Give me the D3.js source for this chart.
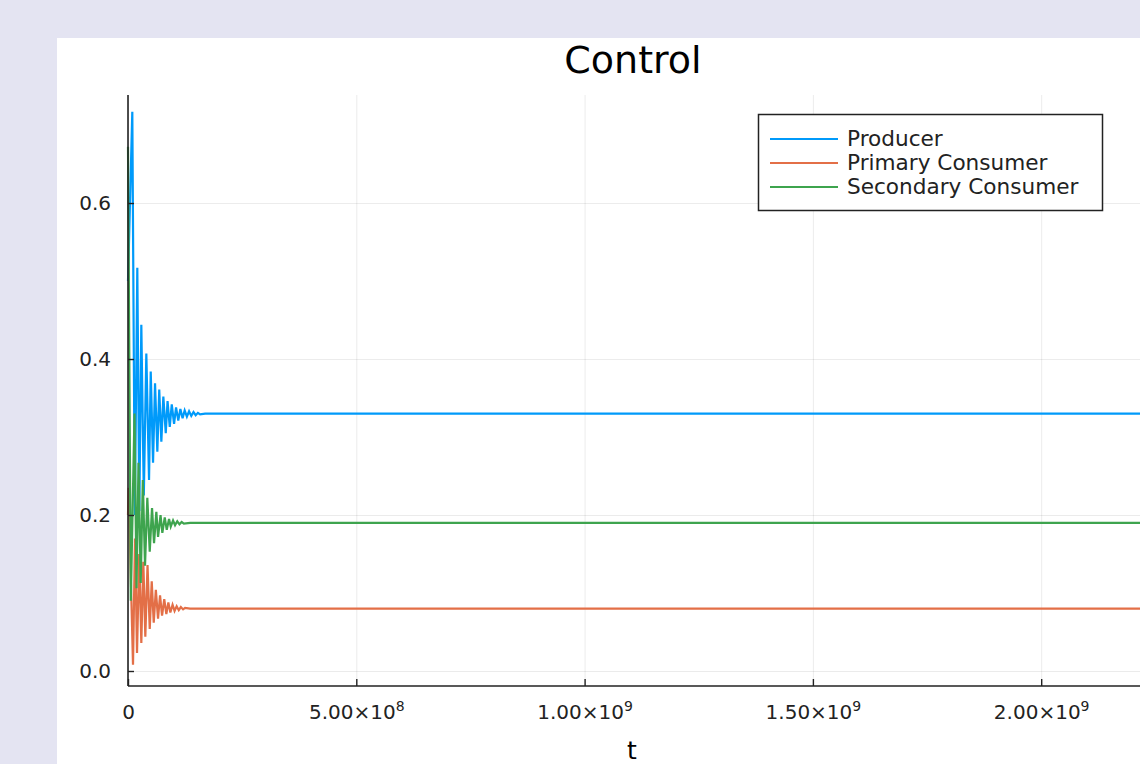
<!DOCTYPE html>
<html>
<head>
<meta charset="utf-8">
<script src="https://cdn.jsdelivr.net/npm/d3@7"></script>
<style>
  html, body { margin: 0; padding: 0; background: #e4e4f2; overflow: hidden; }
  svg { display: block; }
  text { font-family: "DejaVu Sans", sans-serif; }
</style>
</head>
<body>
<svg id="chart" width="1140" height="764"></svg>
<script>
// ---- data (t in units of 1e6) ----
const seriesNames = ["Producer", "Primary Consumer", "Secondary Consumer"];
const seriesColors = ["#009afa", "#e36f47", "#3ea44e"];

const producerT = [0, 9.43, 14.91, 20.39, 24.78, 29.17, 34.65, 40.13, 46.05, 49.78, 54.83, 59.21, 64.25, 68.42, 73.03, 77.41, 82.68, 86.62, 91.45, 95.83, 100.88, 105.26, 110.09, 114.69, 119.52, 124.12, 128.95, 133.77, 138.60, 143.42, 148.25, 153.07, 157.90, 168.86, 2250];
const producerV = [0.5, 0.717, 0.2, 0.517, 0.205, 0.444, 0.225, 0.407, 0.245, 0.384, 0.267, 0.369, 0.281, 0.361, 0.294, 0.352, 0.305, 0.346, 0.313, 0.342, 0.317, 0.338, 0.321, 0.336, 0.324, 0.334, 0.326, 0.333, 0.327, 0.332, 0.328, 0.331, 0.329, 0.33, 0.33];

const primaryT = [0, 1.32, 10.97, 15.35, 19.74, 24.56, 29.17, 33.55, 37.94, 42.76, 47.59, 51.97, 56.36, 60.97, 65.79, 70.18, 74.56, 79.39, 83.99, 88.38, 92.76, 97.59, 101.97, 106.58, 111.19, 115.79, 120.62, 125.00, 135.97, 2250];
const primaryV = [0.2, 0.235, 0.008, 0.17, 0.023, 0.15, 0.036, 0.14, 0.044, 0.136, 0.054, 0.115, 0.062, 0.104, 0.067, 0.097, 0.071, 0.092, 0.073, 0.088, 0.075, 0.085, 0.077, 0.083, 0.078, 0.082, 0.079, 0.081, 0.08, 0.08];

const secondaryT = [0, 6.14, 14.25, 18.64, 23.03, 27.85, 32.46, 37.28, 42.32, 47.59, 52.63, 57.02, 62.06, 65.79, 71.27, 75.22, 80.48, 84.87, 89.91, 93.64, 98.69, 103.07, 107.90, 112.72, 117.55, 122.37, 135.97, 2250];
const secondaryV = [0.672, 0.09, 0.33, 0.106, 0.267, 0.113, 0.245, 0.135, 0.222, 0.153, 0.209, 0.164, 0.204, 0.172, 0.2, 0.177, 0.197, 0.181, 0.195, 0.185, 0.193, 0.187, 0.192, 0.188, 0.191, 0.189, 0.19, 0.19];

const yTickValues = [0.0, 0.2, 0.4, 0.6];
const xTickValues = [0, 5e8, 1e9, 1.5e9, 2e9];
const xTickMantissas = ["0", "5.00", "1.00", "1.50", "2.00"];
const xTickExponents = ["", "8", "9", "9", "9"];
const titleText = "Control";
const xLabelText = "t";

// ---- layout ----
const svg = d3.select("#chart");
const plotLeft = 128, plotTop = 95, plotBottom = 686;
const xTickPx = 228.3; // pixels per 5e8
const plotRight = plotLeft + 2.25e9 / 5e8 * xTickPx;

const x = d3.scaleLinear().domain([0, 2.25e9]).range([plotLeft, plotRight]);
const y = d3.scaleLinear().domain([-0.01923, 0.7385]).range([plotBottom, plotTop]);

// white panel
svg.append("rect").attr("x", 57).attr("y", 38).attr("width", 1200).attr("height", 800).attr("fill", "#ffffff");

// title
svg.append("text").attr("x", 633).attr("y", 73).attr("text-anchor", "middle")
  .attr("font-size", 38).attr("fill", "#000").text(titleText);

// grid
const gridColor = "rgba(0,0,0,0.08)";
svg.append("g").attr("transform", `translate(0,${plotBottom})`)
  .call(d3.axisBottom(x).tickValues(xTickValues).tickSize(-(plotBottom - plotTop)).tickFormat(""))
  .call(g => g.select(".domain").remove())
  .call(g => g.selectAll("line").attr("stroke", gridColor).attr("stroke-width", 1));
svg.append("g").attr("transform", `translate(${plotLeft},0)`)
  .call(d3.axisLeft(y).tickValues(yTickValues).tickSize(-(plotRight - plotLeft)).tickFormat(""))
  .call(g => g.select(".domain").remove())
  .call(g => g.selectAll("line").attr("stroke", gridColor).attr("stroke-width", 1));

// series
const series = [
  producerT.map((t, i) => [t * 1e6, producerV[i]]),
  primaryT.map((t, i) => [t * 1e6, primaryV[i]]),
  secondaryT.map((t, i) => [t * 1e6, secondaryV[i]])
];
const line = d3.line().x(d => x(d[0])).y(d => y(d[1]));
series.forEach((s, i) => {
  svg.append("path").datum(s).attr("d", line)
    .attr("fill", "none").attr("stroke", seriesColors[i]).attr("stroke-width", 2.2)
    .attr("stroke-linejoin", "miter");
});

// axes
const axisColor = "#222";
const yAxis = svg.append("g").attr("transform", `translate(${plotLeft},0)`)
  .call(d3.axisLeft(y).tickValues(yTickValues).tickSize(-6).tickPadding(17).tickFormat(d3.format(".1f")));
yAxis.select(".domain").attr("d", `M0,${plotTop}V${plotBottom}`).attr("stroke", axisColor).attr("stroke-width", 1.6);
yAxis.selectAll("line").attr("stroke", axisColor).attr("stroke-width", 1.4);
yAxis.selectAll("text").attr("font-size", 20).attr("fill", "#222").attr("font-family", "DejaVu Sans, sans-serif");

const xAxis = svg.append("g").attr("transform", `translate(0,${plotBottom})`)
  .call(d3.axisBottom(x).tickValues(xTickValues).tickSize(-7).tickFormat(""));
xAxis.select(".domain").attr("d", `M${plotLeft},0H${plotRight}`).attr("stroke", axisColor).attr("stroke-width", 1.6);
xAxis.selectAll("line").attr("stroke", axisColor).attr("stroke-width", 1.4);
xAxis.selectAll(".tick text").remove();
xAxis.selectAll(".tick").each(function(d, i) {
  const t = d3.select(this).append("text").attr("y", 33).attr("text-anchor", "middle")
    .attr("fill", "#222").attr("font-size", 20).attr("font-family", "DejaVu Sans, sans-serif");
  if (xTickExponents[i]) {
    t.append("tspan").text(xTickMantissas[i] + "×10");
    t.append("tspan").attr("dy", -8).attr("font-size", 14).text(xTickExponents[i]);
  } else {
    t.append("tspan").text(xTickMantissas[i]);
  }
});

// x label
svg.append("text").attr("x", 632).attr("y", 759).attr("text-anchor", "middle")
  .attr("font-size", 25).attr("fill", "#000").text(xLabelText);

// legend
const lg = svg.append("g");
lg.append("rect").attr("x", 758.5).attr("y", 114.5).attr("width", 344).attr("height", 96)
  .attr("fill", "#fff").attr("stroke", "#222").attr("stroke-width", 1.5);
seriesNames.forEach((name, i) => {
  const ly = 139 + i * 24;
  lg.append("line").attr("x1", 770).attr("x2", 838).attr("y1", ly).attr("y2", ly)
    .attr("stroke", seriesColors[i]).attr("stroke-width", 2);
  lg.append("text").attr("x", 847).attr("y", ly + 7).attr("font-size", 21.6).attr("fill", "#222").text(name);
});
</script>
</body>
</html>
